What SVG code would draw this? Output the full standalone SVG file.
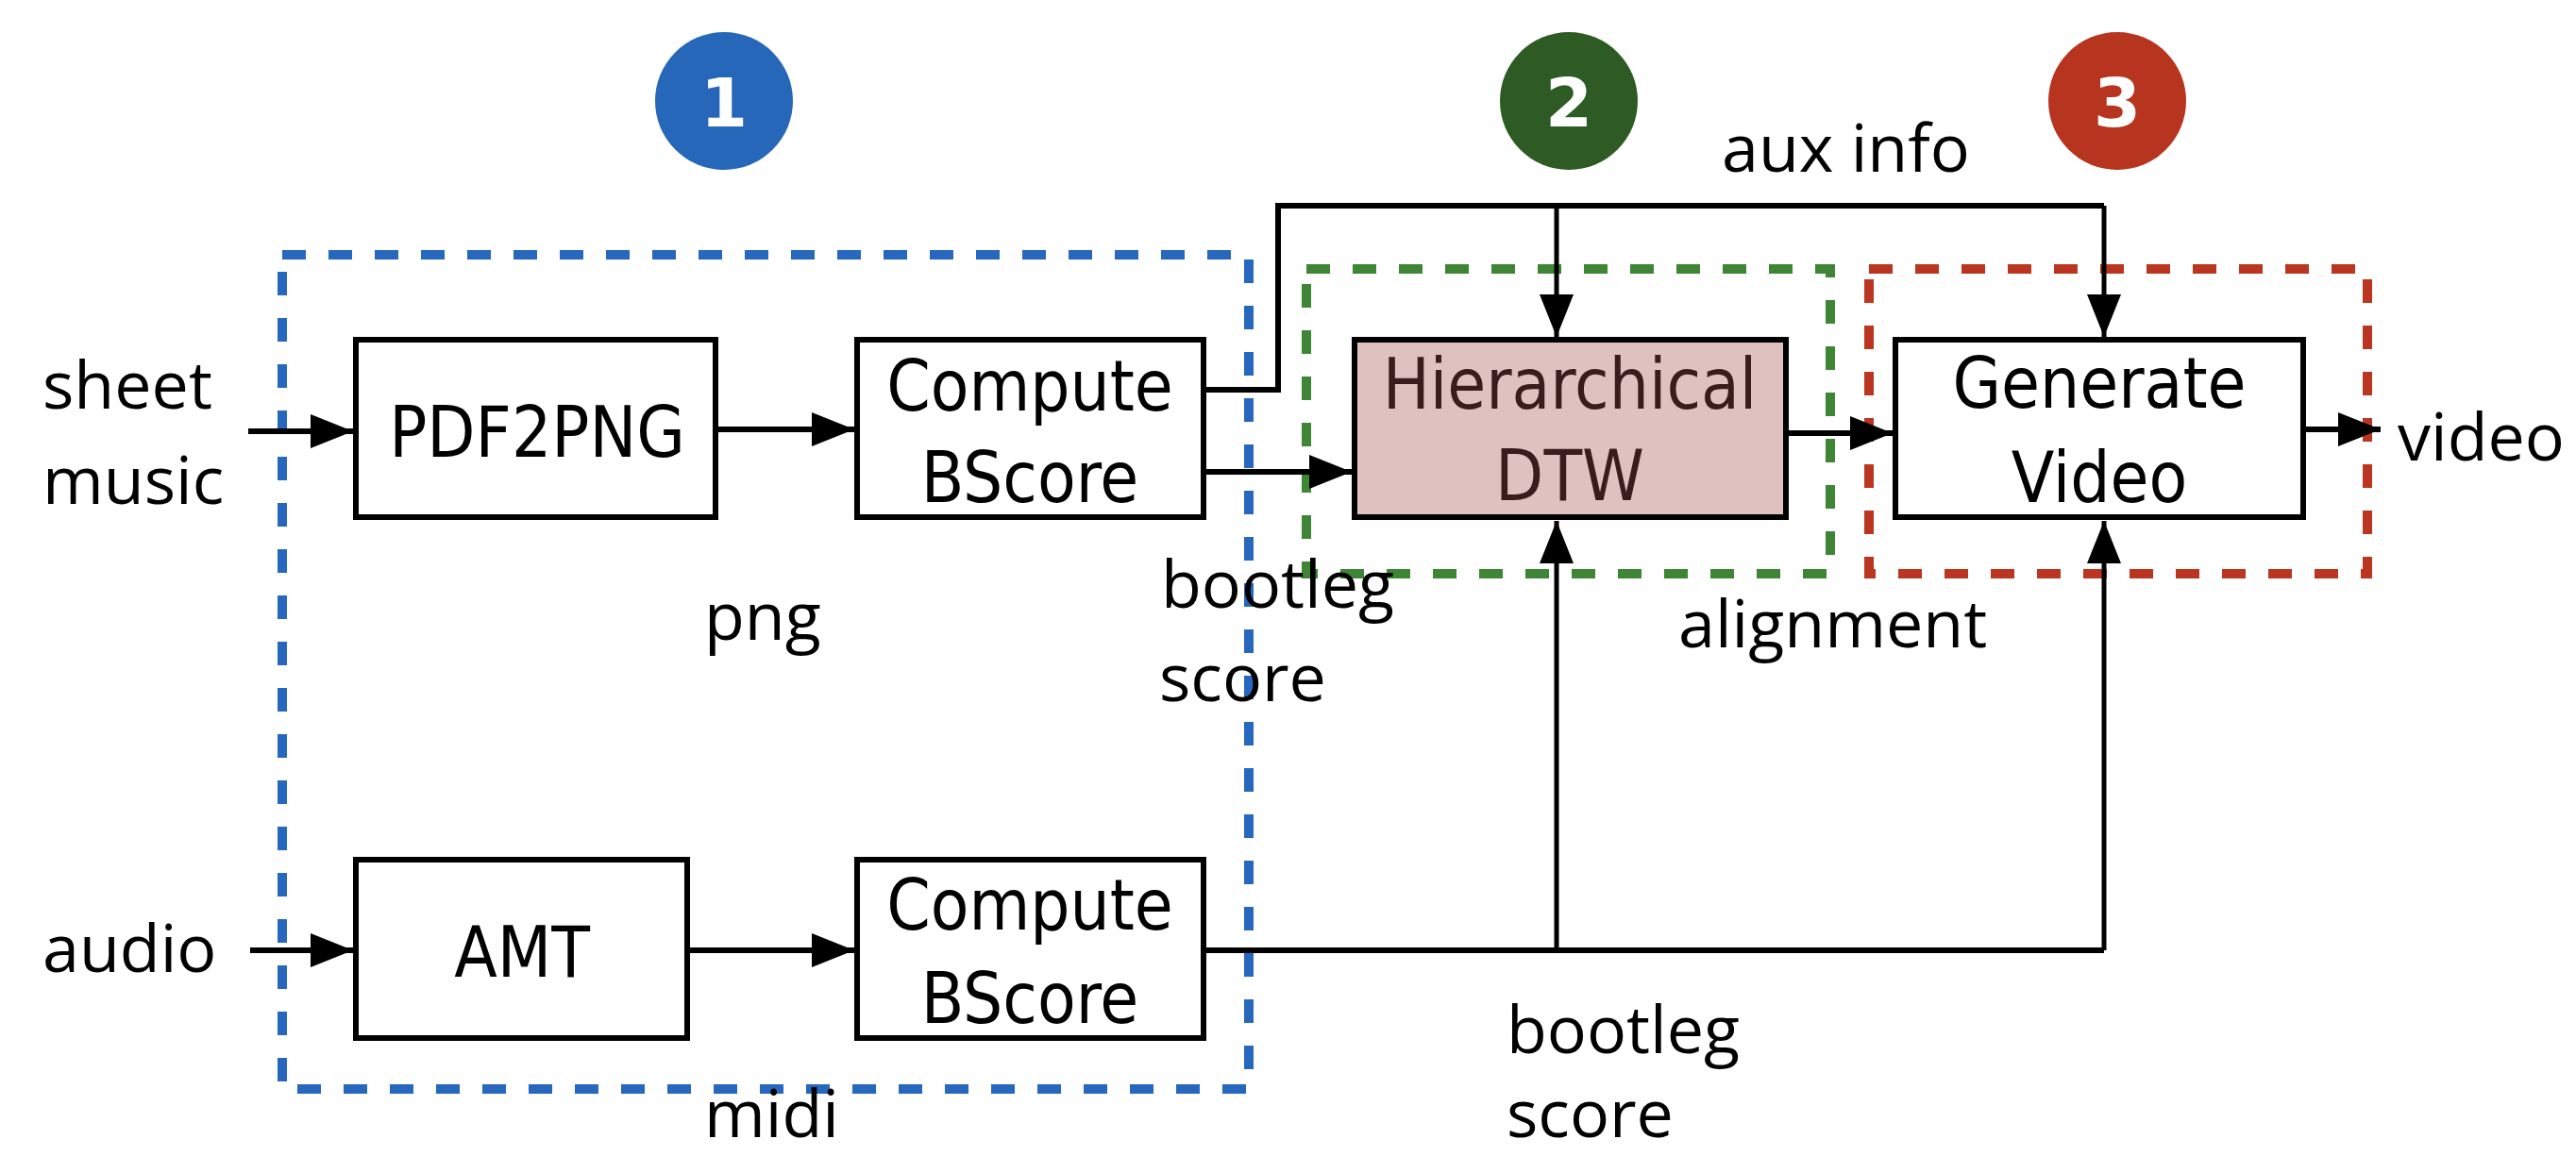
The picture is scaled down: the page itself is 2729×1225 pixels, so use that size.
<svg xmlns="http://www.w3.org/2000/svg" width="2729" height="1225" viewBox="0 0 2729 1225">
<style>
.box{fill:#fff;stroke:#000;stroke-width:6}
.bt{font-family:"DejaVu Sans Condensed","DejaVu Sans",sans-serif;font-stretch:condensed;font-size:74px;fill:#000;text-anchor:middle}
.lbl{font-family:"Open Sans","DejaVu Sans",sans-serif;font-size:70px;fill:#000}
.num{font-family:"DejaVu Sans","Liberation Sans",sans-serif;font-weight:bold;font-size:72px;fill:#fff;text-anchor:middle}
.ln{fill:none;stroke:#000;stroke-width:6}
.thin{fill:none;stroke:#000;stroke-width:5}
.dash{fill:none;stroke-width:10;stroke-dasharray:25 24}
</style>
<defs>
<marker id="ah" markerUnits="userSpaceOnUse" markerWidth="46" markerHeight="36" refX="45" refY="18" orient="auto">
<path d="M0,0 L45,18 L0,36 z" fill="#000"/>
</marker>
</defs>
<rect width="2729" height="1225" fill="#fff"/>

<g id="circle1"><circle cx="767" cy="107" r="73" fill="#2767b9"/><text class="num" x="767" y="134">1</text></g>
<g id="circle2"><circle cx="1662" cy="107" r="73" fill="#2e5a23"/><text class="num" x="1662" y="134">2</text></g>
<g id="circle3"><circle cx="2243" cy="107" r="73" fill="#b7351f"/><text class="num" x="2243" y="134">3</text></g>

<g id="group1"><rect class="dash" x="299" y="270" width="1024" height="884" stroke="#2767bd"/></g>
<g id="group2"><rect class="dash" x="1384" y="285" width="555" height="323" stroke="#3e8535" stroke-width="11"/></g>
<g id="group3"><rect class="dash" x="1980" y="285" width="528" height="323" stroke="#bb3620" stroke-width="11"/></g>

<g id="connectors">
<path class="ln" d="M263,457 H374" marker-end="url(#ah)"/>
<path class="ln" d="M761,455 H905" marker-end="url(#ah)"/>
<path class="ln" d="M1278,413 H1354 V218 H2229"/>
<path class="thin" d="M1649,218 V357" marker-end="url(#ah)"/>
<path class="thin" d="M2229,218 V357" marker-end="url(#ah)"/>
<path class="ln" d="M1278,500 H1432" marker-end="url(#ah)"/>
<path class="ln" d="M1895,459 H2005" marker-end="url(#ah)"/>
<path class="ln" d="M2443,455 H2522" marker-end="url(#ah)"/>
<path class="ln" d="M265,1007 H374" marker-end="url(#ah)"/>
<path class="ln" d="M731,1007 H905" marker-end="url(#ah)"/>
<path class="ln" d="M1278,1007 H2229"/>
<path class="thin" d="M1649,1007 V552" marker-end="url(#ah)"/>
<path class="thin" d="M2229,1007 V552" marker-end="url(#ah)"/>
</g>

<g id="pdf2png"><rect class="box" x="377" y="360" width="381" height="188"/><text class="bt" x="569" y="484">PDF2PNG</text></g>
<g id="computeTop"><rect class="box" x="908" y="360" width="367" height="188"/><text class="bt" x="1091" y="435">Compute</text><text class="bt" x="1091" y="532">BScore</text></g>
<g id="hdtw"><rect x="1435" y="360" width="457" height="188" fill="#dfc1bf" stroke="#000" stroke-width="6"/><text class="bt" x="1663" y="433" style="fill:#3a1c1c">Hierarchical</text><text class="bt" x="1663" y="530" style="fill:#3a1c1c">DTW</text></g>
<g id="genvideo"><rect class="box" x="2008" y="360" width="432" height="188"/><text class="bt" x="2224" y="432">Generate</text><text class="bt" x="2224" y="532">Video</text></g>
<g id="amt"><rect class="box" x="377" y="911" width="351" height="189"/><text class="bt" x="553" y="1035">AMT</text></g>
<g id="computeBot"><rect class="box" x="908" y="911" width="367" height="189"/><text class="bt" x="1091" y="985">Compute</text><text class="bt" x="1091" y="1084">BScore</text></g>

<g id="labels">
<text class="lbl" x="45" y="433">sheet</text>
<text class="lbl" x="45" y="534">music</text>
<text class="lbl" x="45" y="1030">audio</text>
<text class="lbl" x="746" y="678">png</text>
<text class="lbl" x="746" y="1205">midi</text>
<text class="lbl" x="1230" y="644">bootleg</text>
<text class="lbl" x="1228" y="743">score</text>
<text class="lbl" x="1824" y="182">aux info</text>
<text class="lbl" x="1778" y="686">alignment</text>
<text class="lbl" x="1596" y="1116">bootleg</text>
<text class="lbl" x="1596" y="1205">score</text>
<text class="lbl" x="2540" y="488">video</text>
</g>
</svg>
